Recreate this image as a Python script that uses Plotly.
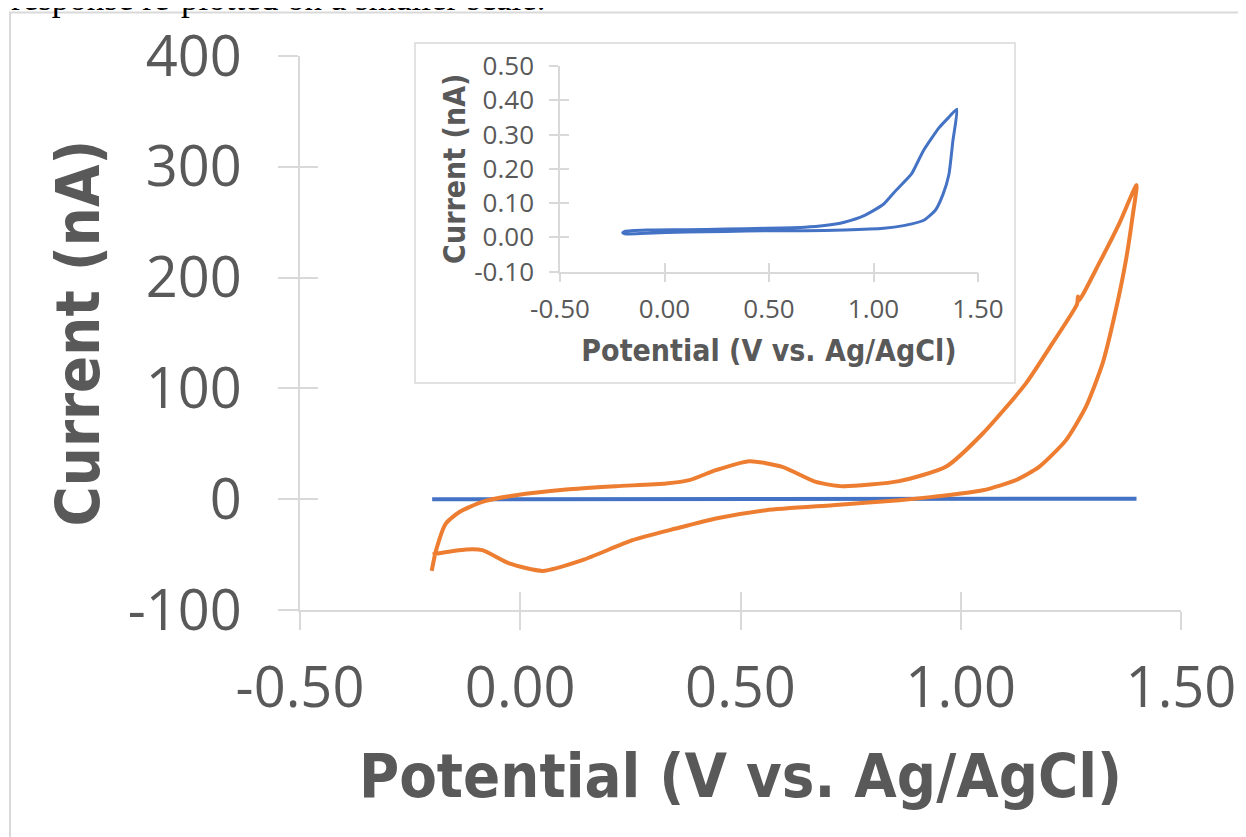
import plotly.graph_objects as go

# ---------------- data ----------------
# Orange CV (nA vs V vs Ag/AgCl): forward scan then reverse scan
orange_v = [-0.201, -0.191, -0.169, -0.138, -0.086, -0.010, 0.104, 0.217, 0.331, 0.384,
            0.444, 0.520, 0.595, 0.671, 0.732, 0.860, 0.966, 1.050, 1.148, 1.208,
            1.264, 1.266, 1.268, 1.314, 1.360, 1.399,
            1.390, 1.375, 1.352, 1.322, 1.284, 1.239, 1.178, 1.125, 1.050, 0.936,
            0.860, 0.709, 0.558, 0.444, 0.353, 0.255, 0.141, 0.051, -0.025, -0.086,
            -0.123, -0.199]
orange_i = [-64.7, -46.0, -22.0, -11.5, -2.4, 3.6, 8.7, 11.7, 14.2, 17.2,
            26.2, 34.3, 29.2, 15.6, 11.7, 16.3, 29.2, 59.3, 104.5, 140.6,
            176.0, 183.0, 179.0, 212.8, 249.0, 283.5,
            255.0, 215.8, 170.7, 122.5, 83.3, 53.3, 29.2, 17.2, 8.1, 2.1,
            -1.0, -5.4, -9.9, -17.4, -26.5, -37.0, -55.0, -64.7, -58.0, -46.0,
            -45.4, -49.7]

# Blue CV (nA) — same data shown in main plot and in the inset
blue_v = [-0.200, -0.190, -0.085, 0.104, 0.293, 0.482, 0.671, 0.860, 1.049, 1.144,
          1.238, 1.295, 1.333, 1.361, 1.380, 1.399,
          1.360, 1.314, 1.238, 1.181, 1.106, 1.049, 0.955, 0.860, 0.766, 0.671,
          0.482, 0.293, 0.104, -0.085, -0.190, -0.200]
blue_i = [0.013, 0.010, 0.012, 0.015, 0.017, 0.019, 0.019, 0.021, 0.026, 0.034,
          0.049, 0.078, 0.126, 0.184, 0.282, 0.374,
          0.350, 0.320, 0.252, 0.184, 0.136, 0.097, 0.063, 0.044, 0.034, 0.029,
          0.026, 0.024, 0.022, 0.021, 0.017, 0.013]

x_ticks = [-0.5, 0.0, 0.5, 1.0, 1.5]
x_tick_text = ["-0.50", "0.00", "0.50", "1.00", "1.50"]
y_ticks = [-100, 0, 100, 200, 300, 400]
y_tick_text = ["-100", "0", "100", "200", "300", "400"]
inset_y_ticks = [-0.1, 0.0, 0.1, 0.2, 0.3, 0.4, 0.5]
inset_y_tick_text = ["-0.10", "0.00", "0.10", "0.20", "0.30", "0.40", "0.50"]

x_title = "Potential (V vs. Ag/AgCl)"
y_title = "Current (nA)"
caption = "response re-plotted on a smaller scale."

# ---------------- style ----------------
ORANGE = "#ED7D31"
BLUE = "#4472C4"
GRID = "#D9D9D9"
TXT = "#595959"
TICKFONT = "'Open Sans', sans-serif"
TITLEFONT = "'DejaVu Sans Condensed', 'Open Sans', sans-serif"

OFF = 8  # page body margin of the html page
W, H = 1246 - OFF, 837 - OFF
L, T = 300 - OFF, 56 - OFF
R = W - (1181 - OFF)
B = H - (610 - OFF)
pw, ph = W - L - R, H - T - B


def px_x(p):
    """screen pixel x -> paper x"""
    return (p - OFF - L) / pw


def px_y(p):
    """screen pixel y -> paper y"""
    return 1 - (p - OFF - T) / ph


fig = go.Figure()

# main traces
fig.add_trace(go.Scatter(x=blue_v, y=blue_i, mode="lines",
                         line=dict(color=BLUE, width=4), xaxis="x", yaxis="y",
                         showlegend=False, hoverinfo="skip"))
fig.add_trace(go.Scatter(x=orange_v, y=orange_i, mode="lines",
                         line=dict(color=ORANGE, width=4, shape="spline", smoothing=0.6),
                         xaxis="x", yaxis="y", showlegend=False, hoverinfo="skip"))
# inset trace
fig.add_trace(go.Scatter(x=blue_v, y=blue_i, mode="lines",
                         line=dict(color=BLUE, width=3, shape="spline", smoothing=0.5),
                         xaxis="x2", yaxis="y2", showlegend=False, hoverinfo="skip"))
# empty traces to realise the inside-tick overlay axes
for xa, ya in [("x3", "y"), ("x", "y3"), ("x4", "y2"), ("x2", "y4")]:
    fig.add_trace(go.Scatter(x=[], y=[], xaxis=xa, yaxis=ya, showlegend=False,
                             hoverinfo="skip"))

common = dict(showgrid=False, zeroline=False, linecolor=GRID, tickcolor=GRID)

fig.update_layout(
    width=W, height=H,
    margin=dict(l=L, r=R, t=T, b=B, autoexpand=False),
    paper_bgcolor="white", plot_bgcolor="white",
    xaxis=dict(domain=[0, 1], range=[-0.5, 1.5], anchor="y",
               tickvals=x_ticks, ticktext=x_tick_text,
               showline=True, linewidth=2, ticks="outside", ticklen=18, tickwidth=2,
               tickfont=dict(family=TICKFONT, size=56, color=TXT),
               ticklabelstandoff=10,
               title=dict(text=x_title, standoff=32,
                          font=dict(family=TITLEFONT, size=61, color=TXT, weight="bold")),
               **common),
    yaxis=dict(domain=[0, 1], range=[-100, 400], anchor="x",
               tickvals=y_ticks, ticktext=y_tick_text,
               showline=True, linewidth=2, ticks="outside", ticklen=20, tickwidth=2,
               tickfont=dict(family=TICKFONT, size=56, color=TXT),
               ticklabelstandoff=25,
               title=dict(text=y_title, standoff=8,
                          font=dict(family=TITLEFONT, size=61, color=TXT, weight="bold")),
               **common),
    xaxis3=dict(overlaying="x", anchor="y", range=[-0.5, 1.5], tickvals=x_ticks,
                showticklabels=False, showline=False, ticks="inside", ticklen=18,
                tickwidth=2, **common),
    yaxis3=dict(overlaying="y", anchor="x", range=[-100, 400], tickvals=y_ticks,
                showticklabels=False, showline=False, ticks="inside", ticklen=18,
                tickwidth=2, **common),
    xaxis2=dict(domain=[px_x(560), px_x(978)], range=[-0.5, 1.5], anchor="y2",
                tickvals=x_ticks, ticktext=x_tick_text,
                showline=True, linewidth=1.5, ticks="outside", ticklen=9, tickwidth=1.5,
                tickfont=dict(family=TICKFONT, size=26, color=TXT),
                ticklabelstandoff=5,
                title=dict(text=x_title, standoff=15,
                           font=dict(family=TITLEFONT, size=30, color=TXT, weight="bold")),
                **common),
    yaxis2=dict(domain=[px_y(271.5), px_y(66)], range=[-0.1, 0.5], anchor="x2",
                tickvals=inset_y_ticks, ticktext=inset_y_tick_text,
                showline=True, linewidth=1.5, ticks="outside", ticklen=9, tickwidth=1.5,
                tickfont=dict(family=TICKFONT, size=26, color=TXT),
                ticklabelstandoff=10,
                title=dict(text=y_title, standoff=0,
                           font=dict(family=TITLEFONT, size=30, color=TXT, weight="bold")),
                **common),
    xaxis4=dict(overlaying="x2", anchor="y2", range=[-0.5, 1.5], tickvals=x_ticks,
                showticklabels=False, showline=False, ticks="inside", ticklen=9,
                tickwidth=1.5, **common),
    yaxis4=dict(overlaying="y2", anchor="x2", range=[-0.1, 0.5], tickvals=inset_y_ticks,
                showticklabels=False, showline=False, ticks="inside", ticklen=9,
                tickwidth=1.5, **common),
    shapes=[
        # outer chart frame
        dict(type="rect", xref="paper", yref="paper", layer="below",
             x0=px_x(10), x1=px_x(1270), y0=px_y(860), y1=px_y(12.5),
             line=dict(color=GRID, width=2), fillcolor="rgba(0,0,0,0)"),
        # inset frame
        dict(type="rect", xref="paper", yref="paper", layer="below",
             x0=px_x(415), x1=px_x(1015), y0=px_y(383), y1=px_y(43),
             line=dict(color=GRID, width=1.5), fillcolor="white"),
    ],
    annotations=[
        dict(text=caption, xref="paper", yref="paper", x=px_x(9), y=px_y(20),
             xanchor="left", yanchor="bottom", showarrow=False,
             font=dict(family="Liberation Serif", size=35, color="black")),
    ],
)

fig.write_html("out.html")
